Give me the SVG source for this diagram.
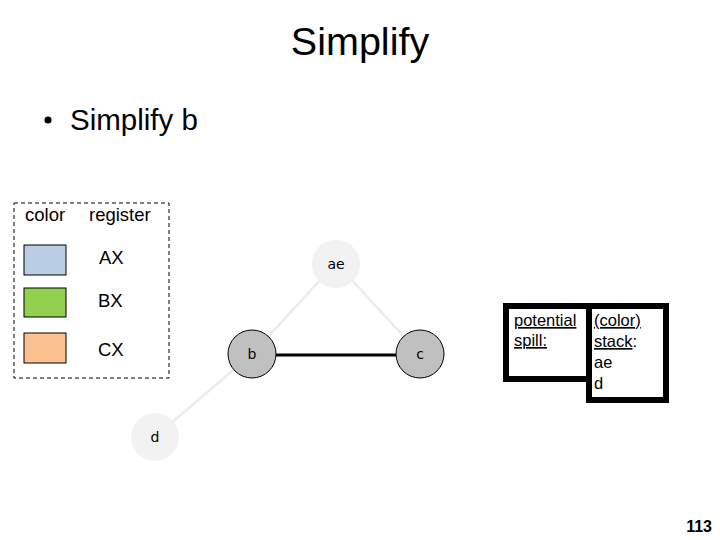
<svg xmlns="http://www.w3.org/2000/svg" width="720" height="540" viewBox="0 0 720 540">
<style>
text{font-family:"Liberation Sans",Arial,sans-serif;fill:#000}
.lg{font-size:18.5px}
.sw{stroke:#000;stroke-width:1}
.node{font-family:"DejaVu Sans",sans-serif;font-size:14px}
.lt{fill:#f2f2f2}
.dk{fill:#c0c0c0;stroke:#000;stroke-width:1}
.thin{stroke:#ececec;stroke-width:2.5}
.box{fill:#fff;stroke:#000;stroke-width:6}
.sp{font-size:16.5px}
</style>
<rect width="720" height="540" fill="#fff"/>
<g id="title"><text x="360" y="55" font-size="39.5" text-anchor="middle">Simplify</text></g>
<g id="bullet"><circle cx="48" cy="120" r="3.5" fill="#000"/><text x="70" y="130" font-size="29.5">Simplify b</text></g>
<g id="legend">
<rect x="14" y="203" width="155" height="175" fill="none" stroke="#000" stroke-width="1" stroke-dasharray="4,3"/>
<text class="lg" x="25" y="221">color</text>
<text class="lg" x="89" y="221">register</text>
<rect class="sw" x="24" y="245" width="42" height="30" fill="#b9cde5"/>
<rect class="sw" x="24" y="288" width="42" height="29" fill="#92d050"/>
<rect class="sw" x="24" y="333" width="42" height="30" fill="#fac090"/>
<text class="lg" x="99" y="264">AX</text>
<text class="lg" x="98" y="307">BX</text>
<text class="lg" x="98" y="356">CX</text>
</g>
<g id="connectors">
<line class="thin" x1="336" y1="263" x2="252" y2="354"/>
<line class="thin" x1="336" y1="263" x2="420" y2="354"/>
<line class="thin" x1="252" y1="354" x2="155" y2="437"/>
<line x1="252" y1="355" x2="420" y2="355" stroke="#000" stroke-width="3"/>
</g>
<g id="node-ae"><circle class="lt" cx="336" cy="264" r="24"/><text class="node" x="336" y="269" text-anchor="middle">ae</text></g>
<g id="node-b"><circle class="dk" cx="252" cy="354" r="24"/><text class="node" x="252" y="359" text-anchor="middle">b</text></g>
<g id="node-c"><circle class="dk" cx="420" cy="354" r="24"/><text class="node" x="420" y="359" text-anchor="middle">c</text></g>
<g id="node-d"><circle class="lt" cx="155" cy="437" r="24"/><text class="node" x="155" y="442" text-anchor="middle">d</text></g>
<g id="spill">
<rect class="box" x="506" y="306" width="83" height="73"/>
<text class="sp" x="514" y="326" text-decoration="underline">potential</text>
<text class="sp" x="514" y="346" text-decoration="underline">spill:</text>
</g>
<g id="stack">
<rect class="box" x="589" y="306" width="77" height="94"/>
<text class="sp" x="594" y="326" text-decoration="underline">(color)</text>
<text class="sp" x="594" y="347"><tspan text-decoration="underline">stack</tspan>:</text>
<text class="sp" x="594" y="368">ae</text>
<text class="sp" x="594" y="389">d</text>
</g>
<g id="page"><text x="712" y="532" font-size="16" font-weight="bold" text-anchor="end">113</text></g>
</svg>
